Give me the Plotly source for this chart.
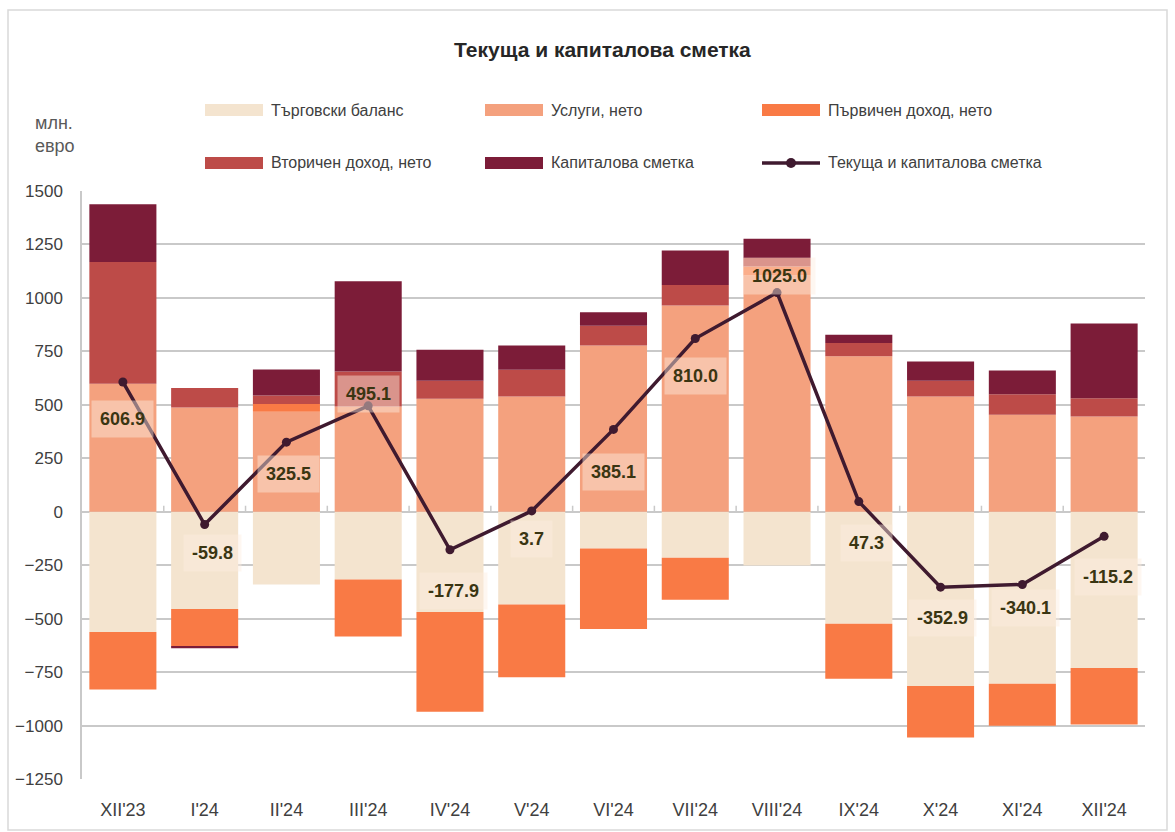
import plotly.graph_objects as go

categories = ["XII'23", "I'24", "II'24", "III'24", "IV'24", "V'24", "VI'24",
              "VII'24", "VIII'24", "IX'24", "X'24", "XI'24", "XII'24"]
trade = [-562, -455, -340, -317, -469, -434, -172, -215, -252, -524, -815, -805, -731]
services = [598, 488, 468, 492, 528, 539, 777, 964, 1105, 727, 539, 453, 445]
primary = [-269, -176, 36, -266, -467, -340, -376, -197, 42, -257, -241, -196, -264]
secondary = [570, 91, 39, 164, 85, 125, 93, 96, 40, 62, 74, 97, 86]
capital = [270, -8, 122, 422, 145, 113, 63, 162, 90, 39, 90, 111, 349]
total = [606.9, -59.8, 325.5, 495.1, -177.9, 3.7, 385.1, 810.0, 1025.0, 47.3, -352.9, -340.1, -115.2]

series_names = ["Търговски баланс", "Услуги, нето", "Първичен доход, нето",
                "Вторичен доход, нето", "Капиталова сметка"]
line_name = "Текуща и капиталова сметка"
colors = ["#F4E4CF", "#F4A17E", "#F97A45", "#BD4B48", "#7C1C38"]
line_color = "#3F1A2F"
# label offsets (pixels) relative to each line point
label_dy = [-37, -28, -32, 12, -41, -28, -43, -37, 17, -41, -31, -24, -41]
label_dx = [0, 8, 2, 0, 4, 0, 0, 0, 2, 8, 2, 3, 4]

FONT = "Liberation Sans Narrow, Arial Narrow, Liberation Sans, Arial, sans-serif"
W, H = 1175, 832
L, R, T, B = 82, 30, 191, 53
PW, PH = W - L - R, H - T - B


def px(xp):
    return (xp - L) / PW


def py(yp):
    return (H - B - yp) / PH


fig = go.Figure()
for name, vals, col in zip(series_names, [trade, services, primary, secondary, capital], colors):
    fig.add_trace(go.Bar(x=categories, y=vals, name=name, marker=dict(color=col, line=dict(width=0)),
                         showlegend=False))

fig.add_trace(go.Scatter(x=categories, y=total, mode="lines+markers", name=line_name,
                         line=dict(color=line_color, width=3.5),
                         marker=dict(color=line_color, size=9), showlegend=False))

# data labels
for c, v, dy, dx in zip(categories, total, label_dy, label_dx):
    fig.add_annotation(x=c, y=v, text=f"<b>{v:.1f}</b>", showarrow=False, yshift=dy, xshift=dx,
                       font=dict(family=FONT, size=18, color="#3A3512"),
                       bgcolor="rgba(252,238,224,0.45)", borderpad=8)

# zero-line tick marks between categories
for i in range(len(categories) - 1):
    fig.add_shape(type="line", xref="x", yref="y", x0=i + 0.5, x1=i + 0.5, y0=0, y1=28,
                  line=dict(color="#C9C9C9", width=1.5), layer="below")

# custom legend
legend_items = series_names + [line_name]
col_x = [205, 485, 762]
row_y = [110, 163]
for k, name in enumerate(legend_items):
    cx = col_x[k % 3]
    ry = row_y[k // 3]
    if k < 5:
        fig.add_shape(type="rect", xref="paper", yref="paper",
                      x0=px(cx), x1=px(cx + 58), y0=py(ry + 6), y1=py(ry - 6),
                      fillcolor=colors[k], line=dict(width=0))
    else:
        fig.add_shape(type="line", xref="paper", yref="paper",
                      x0=px(cx), x1=px(cx + 58), y0=py(ry), y1=py(ry),
                      line=dict(color=line_color, width=3.5))
        fig.add_shape(type="circle", xref="paper", yref="paper",
                      x0=px(cx + 24), x1=px(cx + 34), y0=py(ry + 5), y1=py(ry - 5),
                      fillcolor=line_color, line=dict(width=0))
    fig.add_annotation(xref="paper", yref="paper", x=px(cx + 64), y=py(ry), text=name,
                       showarrow=False, xanchor="left", yanchor="middle",
                       font=dict(family=FONT, size=16, color="#404040"))

# frame
fig.add_shape(type="rect", xref="paper", yref="paper", x0=px(8), x1=px(1167), y0=py(830), y1=py(10),
              line=dict(color="#D9D9D9", width=1.5), layer="below")

# title
fig.add_annotation(xref="paper", yref="paper", x=px(602), y=py(50), text="<b>Текуща и капиталова сметка</b>",
                   showarrow=False, xanchor="center", yanchor="middle",
                   font=dict(family=FONT, size=21, color="#262626"))

# y unit
fig.add_annotation(xref="paper", yref="paper", x=px(33), y=py(134), text="млн.<br>евро",
                   showarrow=False, xanchor="left", yanchor="middle", align="left",
                   font=dict(family=FONT, size=18, color="#595959"))

fig.update_layout(
    width=W, height=H, margin=dict(l=L, r=R, t=T, b=B, autoexpand=False),
    barmode="relative", bargap=0.18,
    plot_bgcolor="white", paper_bgcolor="white",
    font=dict(family=FONT, color="#404040"),
    showlegend=False,
)
fig.update_xaxes(range=[-0.5, len(categories) - 0.5], showgrid=False, showline=False, ticks="",
                 tickfont=dict(size=18, color="#404040"), ticklabelstandoff=18, automargin=False)
fig.update_yaxes(range=[-1250, 1500], dtick=250, tick0=0, showgrid=True, gridcolor="#C9C9C9", gridwidth=1.5,
                 zeroline=True, zerolinecolor="#C9C9C9", zerolinewidth=1.5,
                 showline=True, linecolor="#C9C9C9", linewidth=1.5,
                 tickfont=dict(size=17, color="#404040"), ticklabelstandoff=14, automargin=False)

fig.write_html("out.html")
